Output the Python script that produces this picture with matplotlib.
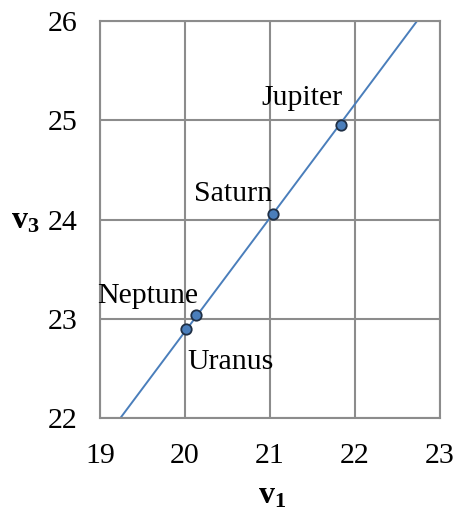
import matplotlib
matplotlib.use("Agg")
import matplotlib.pyplot as plt

planets = ["Jupiter", "Saturn", "Neptune", "Uranus"]
v1 = [21.83, 21.04, 20.13, 20.01]
v3 = [24.95, 24.06, 23.04, 22.9]
fit_x = [19.24, 22.73]
fit_y = [22.0, 26.0]
xticks = [19, 20, 21, 22, 23]
yticks = [22, 23, 24, 25, 26]

plt.rcParams['font.family'] = ['Liberation Serif', 'DejaVu Serif']
plt.rcParams['mathtext.fontset'] = 'custom'
plt.rcParams['mathtext.rm'] = 'Liberation Serif'
plt.rcParams['mathtext.bf'] = 'Liberation Serif:bold'

fig = plt.figure(figsize=(4.56, 5.11), dpi=100)
ax = fig.add_axes([100/456, 1-418/511, 340/456, 397/511])
ax.set_xlim(19, 23)
ax.set_ylim(22, 26)
ax.set_xticks(xticks)
ax.set_yticks(yticks)
ax.grid(True, color='#8c8c8c', linewidth=1.5)
ax.set_axisbelow(True)
for s in ax.spines.values():
    s.set_color('#8c8c8c')
    s.set_linewidth(1.5)
ax.tick_params(axis='both', length=0, labelsize=21.5, colors='black')
ax.tick_params(axis='x', pad=18)
ax.tick_params(axis='y', pad=16)

line_col = '#4a7ebb'
ax.plot(fit_x, fit_y, color=line_col, linewidth=1.4)
ax.plot(v1, v3, 'o', color=line_col, markersize=7.5, markeredgecolor='#1f2f45', markeredgewidth=1.3)

offsets = {"Jupiter": (-39, 27), "Saturn": (-40, 20), "Neptune": (-48, 19), "Uranus": (45, -33)}
for name, x, y in zip(planets, v1, v3):
    dx, dy = offsets[name]
    ax.annotate(name, (x, y), xytext=(dx, dy), textcoords='offset pixels',
                ha='center', va='center', fontsize=21.5)

ax.set_xlabel(r'$\mathbf{v_1}$', fontsize=23, va='center')
ax.xaxis.set_label_coords(0.505, -0.197)
ax.set_ylabel(r'$\mathbf{v_3}$', fontsize=23, rotation=0, va='center', ha='center')
ax.yaxis.set_label_coords(-0.22, 0.495)

fig.savefig('out.png', dpi=100)
